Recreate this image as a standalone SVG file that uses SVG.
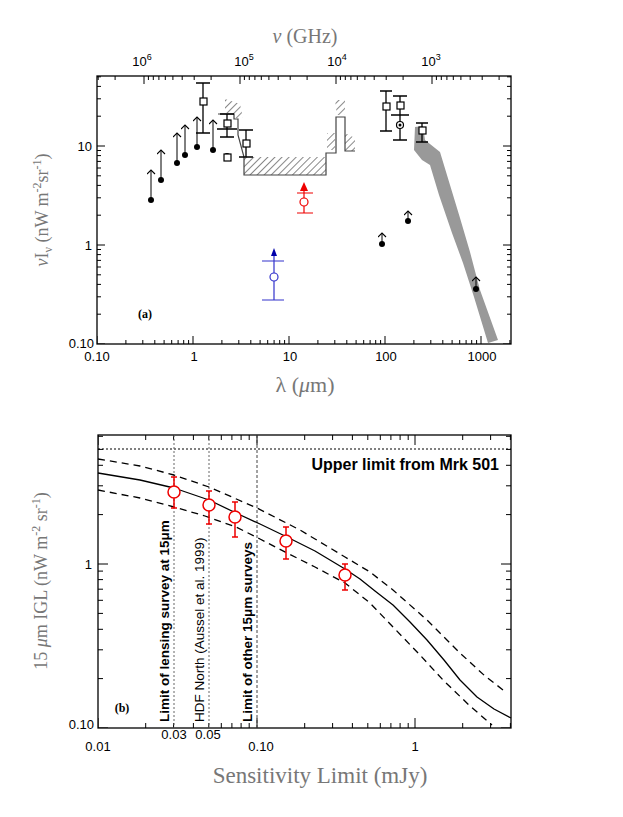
<svg xmlns="http://www.w3.org/2000/svg" xmlns:xlink="http://www.w3.org/1999/xlink" width="623" height="817" viewBox="0 0 623 817">
<style>
.ax{fill:none;stroke:#000;stroke-width:1.3}
.tk{fill:none;stroke:#000;stroke-width:1}
.lb{font-family:"Liberation Sans",Arial,sans-serif;font-size:13px;fill:#000}
.ttl{font-family:"Liberation Serif","DejaVu Serif",serif;fill:#777}
.eb{fill:none;stroke:#000;stroke-width:1.3}
.dot{fill:#000}
.sq{fill:#fff;stroke:#000;stroke-width:1.2}
.hat{fill:url(#hatch);stroke:none}
.vert{font-family:"Liberation Sans",Arial,sans-serif;font-size:13.5px;fill:#000}
</style>
<defs>
<pattern id="hatch" patternUnits="userSpaceOnUse" width="5" height="5" patternTransform="rotate(45)">
<line x1="0" y1="0" x2="0" y2="5" stroke="#111" stroke-width="1"/>
</pattern>
<marker id="ar" markerWidth="8" markerHeight="10" refX="5" refY="4" orient="auto" markerUnits="userSpaceOnUse">
<path d="M1,0 L5,4 L1,8" fill="none" stroke="#000" stroke-width="1.1"/>
</marker>
<clipPath id="c1"><rect x="97" y="76" width="414" height="268"/></clipPath>
<clipPath id="c2"><rect x="98" y="435" width="413" height="293"/></clipPath>
<path id="dxa" d="M0,0v-8M28.9,0v-4M45.8,0v-4M57.8,0v-4M67.1,0v-4M74.7,0v-4M81.1,0v-4M86.7,0v-4M91.6,0v-4"/>
<path id="dya" d="M0,0h8M0,-29.8h4M0,-47.2h4M0,-59.6h4M0,-69.2h4M0,-77h4M0,-83.6h4M0,-89.4h4M0,-94.5h4"/>
<path id="dxb" d="M0,0v-10M47.7,0v-5M75.6,0v-5M95.4,0v-5M110.8,0v-5M123.3,0v-5M133.9,0v-5M143.1,0v-5M151.2,0v-5"/>
<path id="dyb" d="M0,0h10M0,-49.4h5M0,-78.2h5M0,-98.7h5M0,-114.6h5M0,-127.7h5M0,-138.8h5M0,-148.4h5M0,-156.9h5"/>
</defs>
<rect width="623" height="817" fill="#fff"/>

<!-- Panel (a) -->
<g id="panel-a-axes">
<rect class="ax" x="97" y="76" width="414" height="268"/>
<g class="tk" clip-path="url(#c1)">
<use xlink:href="#dxa" transform="translate(97,344)"/>
<use xlink:href="#dxa" transform="translate(193,344)"/>
<use xlink:href="#dxa" transform="translate(289,344)"/>
<use xlink:href="#dxa" transform="translate(385,344)"/>
<use xlink:href="#dxa" transform="translate(481,344)"/>
<use xlink:href="#dxa" transform="translate(528,76) scale(-1,-1)"/>
<use xlink:href="#dxa" transform="translate(432,76) scale(-1,-1)"/>
<use xlink:href="#dxa" transform="translate(336,76) scale(-1,-1)"/>
<use xlink:href="#dxa" transform="translate(240,76) scale(-1,-1)"/>
<use xlink:href="#dxa" transform="translate(144,76) scale(-1,-1)"/>
<use xlink:href="#dya" transform="translate(97,344)"/>
<use xlink:href="#dya" transform="translate(97,245)"/>
<use xlink:href="#dya" transform="translate(97,146)"/>
<use xlink:href="#dya" transform="translate(511,344) scale(-1,1)"/>
<use xlink:href="#dya" transform="translate(511,245) scale(-1,1)"/>
<use xlink:href="#dya" transform="translate(511,146) scale(-1,1)"/>
</g>
<g class="lb" text-anchor="middle">
<text x="97" y="361">0.10</text><text x="194" y="361">1</text><text x="290" y="361">10</text><text x="386" y="361">100</text><text x="482" y="361">1000</text>
<text x="142" y="66">10<tspan font-size="9" dy="-6">6</tspan></text>
<text x="244" y="66">10<tspan font-size="9" dy="-6">5</tspan></text>
<text x="337" y="66">10<tspan font-size="9" dy="-6">4</tspan></text>
<text x="431" y="66">10<tspan font-size="9" dy="-6">3</tspan></text>
</g>
<g class="lb" text-anchor="end">
<text x="92" y="151">10</text><text x="92" y="250">1</text><text x="94" y="348">0.10</text>
</g>
<text class="ttl" x="305" y="43" font-size="20" text-anchor="middle"><tspan font-style="italic">ν</tspan> (GHz)</text>
<text class="ttl" x="305" y="392" font-size="22" text-anchor="middle">λ (<tspan font-style="italic">μ</tspan>m)</text>
<text class="ttl" font-size="18" text-anchor="middle" transform="translate(48,210) rotate(-90)"><tspan font-style="italic">ν</tspan>I<tspan font-size="12" dy="4">ν</tspan><tspan dy="-4">  (nW m</tspan><tspan font-size="12" dy="-7">-2</tspan><tspan dy="7">sr</tspan><tspan font-size="12" dy="-7">-1</tspan><tspan dy="7">)</tspan></text>
<text x="145" y="318" font-family="Liberation Serif,serif" font-weight="bold" font-size="12" text-anchor="middle">(a)</text>
</g>

<g id="hatched-limits">
<polygon class="hat" points="244,157 326,157 326,175 244,175"/>
<polygon class="hat" points="225,99 240,104 243,118 233,118 233,113 225,113"/>
<polygon class="hat" points="335,100 345,100 345,115 337,115"/>
<polygon class="hat" points="327,133 335,133 335,150 327,150"/>
<polygon class="hat" points="345,133 355,138 355,151 345,151"/>
<polyline fill="none" stroke="#444" stroke-width="1.2" points="218,114 234,114 234,119 238,119 238,135 244,157 244,175 326,175 326,153 333,153 336,153 336,117 345,117 345,151 355,151"/>
</g>

<g id="band-submm">
<polygon fill="#999" points="415,127 423,126 425,140 440,152 450,185 460,218 470,252 480,290 498,340 488,343 474,297 463,263 452,233 439,195 430,165 422,160 414,150"/>
</g>

<g id="lower-limits">
<g class="tk" stroke-width="1.2" marker-end="url(#ar)">
<line x1="151" y1="200" x2="151" y2="170"/>
<line x1="161" y1="180" x2="161" y2="150"/>
<line x1="177" y1="163" x2="177" y2="133"/>
<line x1="185" y1="155" x2="185" y2="125"/>
<line x1="197" y1="147" x2="197" y2="117"/>
<line x1="213" y1="150" x2="213" y2="120"/>
<line x1="382" y1="244" x2="382" y2="233"/>
<line x1="408" y1="221" x2="408" y2="211"/>
<line x1="476" y1="289" x2="476" y2="277"/>
</g>
<circle class="dot" cx="151" cy="200" r="3"/><circle class="dot" cx="161" cy="180" r="3"/>
<circle class="dot" cx="177" cy="163" r="3"/><circle class="dot" cx="185" cy="155" r="3"/>
<circle class="dot" cx="197" cy="147" r="3"/><circle class="dot" cx="213" cy="150" r="3"/>
<circle class="dot" cx="227" cy="156" r="3"/>
<circle class="dot" cx="382" cy="244" r="3"/><circle class="dot" cx="408" cy="221" r="3"/><circle class="dot" cx="476" cy="289" r="3"/>
</g>

<g id="squares">
<path class="eb" d="M203,83V133M196,83h14M196,133h14 M227,114V137M220,114h14M220,137h14 M246,130V157M239,130h14M239,157h14 M386,91V131M380,91h12M380,131h12 M400,96V140M393,96h14M393,140h14M391,115h18 M422,123V142M416,123h12M416,142h12 M217,129h20"/>
<rect class="sq" x="200" y="98" width="7" height="7"/>
<rect class="sq" x="224" y="120" width="7" height="7"/>
<rect class="sq" x="224" y="154" width="7" height="7"/>
<rect class="sq" x="243" y="140" width="7" height="7"/>
<rect class="sq" x="383" y="103" width="7" height="7"/>
<rect class="sq" x="397" y="102" width="7" height="7"/>
<rect class="sq" x="419" y="127" width="7" height="7"/>
<circle cx="400" cy="125" r="3.5" fill="#fff" stroke="#000" stroke-width="1.2"/><circle cx="400" cy="125" r="1.5" fill="#000"/>
</g>

<g id="red-point-a">
<path fill="none" stroke="#e00" stroke-width="1.2" d="M304,190V213M297,193h16M297,213h16"/>
<polygon fill="#e00" points="300,191 304,182 308,191"/>
<circle cx="304" cy="202" r="4" fill="#fff" stroke="#e00" stroke-width="1.2"/>
</g>
<g id="blue-point-a">
<path fill="none" stroke="#33c" stroke-width="1.2" d="M274,255V300M262,261h22M262,300h22"/>
<polygon fill="#00a" points="271,256 274,248 277,256"/>
<circle cx="274" cy="277" r="4" fill="#fff" stroke="#33c" stroke-width="1.2"/>
</g>

<!-- Panel (b) -->
<g id="panel-b-axes">
<rect class="ax" x="98" y="435" width="413" height="293"/>
<g class="tk" clip-path="url(#c2)">
<use xlink:href="#dxb" transform="translate(98,728)"/>
<use xlink:href="#dxb" transform="translate(257,728)"/>
<use xlink:href="#dxb" transform="translate(415,728)"/>
<use xlink:href="#dxb" transform="translate(98,435) scale(1,-1)"/>
<use xlink:href="#dxb" transform="translate(257,435) scale(1,-1)"/>
<use xlink:href="#dxb" transform="translate(415,435) scale(1,-1)"/>
<use xlink:href="#dyb" transform="translate(98,728)"/>
<use xlink:href="#dyb" transform="translate(98,564)"/>
<use xlink:href="#dyb" transform="translate(511,728) scale(-1,1)"/>
<use xlink:href="#dyb" transform="translate(511,564) scale(-1,1)"/>
</g>
<g class="lb" text-anchor="middle" font-size="14">
<text x="98" y="751">0.01</text><text x="174" y="739">0.03</text><text x="208" y="739">0.05</text><text x="261" y="751">0.10</text><text x="415" y="751">1</text>
</g>
<g class="lb" text-anchor="end" font-size="14">
<text x="92" y="569">1</text><text x="94" y="729">0.10</text>
</g>
<text class="ttl" x="320" y="783" font-size="23" text-anchor="middle" font-family="'Liberation Sans Narrow','DejaVu Sans Condensed',sans-serif">Sensitivity Limit (mJy)</text>
<text class="ttl" font-size="18" text-anchor="middle" transform="translate(47,581) rotate(-90)">15 <tspan font-style="italic">μ</tspan>m IGL (nW m<tspan font-size="12" dy="-7">-2</tspan><tspan dy="7"> sr</tspan><tspan font-size="12" dy="-7">-1</tspan><tspan dy="7">)</tspan></text>
<text x="122" y="712" font-family="Liberation Serif,serif" font-weight="bold" font-size="12" text-anchor="middle">(b)</text>
<text x="499" y="470" font-family="Liberation Sans,Arial,sans-serif" font-weight="bold" font-size="16" text-anchor="end">Upper limit from Mrk 501</text>
</g>

<g id="limit-lines">
<line x1="98" y1="449" x2="511" y2="449" stroke="#000" stroke-width="1" stroke-dasharray="2,2"/>
<line x1="174" y1="435" x2="174" y2="728" stroke="#666" stroke-width="1" stroke-dasharray="2,2"/>
<line x1="209" y1="435" x2="209" y2="728" stroke="#666" stroke-width="1" stroke-dasharray="2,2"/>
<line x1="257" y1="435" x2="257" y2="728" stroke="#444" stroke-width="1" stroke-dasharray="3,2"/>
<text class="vert" font-weight="bold" transform="translate(169,722) rotate(-90)">Limit of lensing survey at 15μm</text>
<text class="vert" transform="translate(204,722) rotate(-90)">HDF North (Aussel et al. 1999)</text>
<text class="vert" font-weight="bold" transform="translate(252,722) rotate(-90)">Limit of other 15μm surveys</text>
</g>

<g id="curves" fill="none" stroke="#000" stroke-width="1.3" stroke-linejoin="round">
<polyline points="98,473 140,480 174,488 209,500 236,513 260,524 287,537 315,551 345,569 360,579 375,591 393,605 410,622 427,640 444,660 460,680 477,697 494,709 511,718"/>
<polyline stroke-dasharray="7,5" points="98,459 140,466 174,475 209,487 257,508 300,530 345,557 370,572 393,590 427,620 460,653 485,676 507,693"/>
<polyline stroke-dasharray="7,5" points="98,490 140,498 174,507 205,516 236,527 260,539 287,553 315,567 345,583 370,603 393,627 420,655 443,680 470,706 492,725"/>
</g>

<g id="red-points-b" fill="none" stroke="#e00" stroke-width="1.5">
<path d="M174,477V508M171,477h6M171,508h6 M209,491V524M206,491h6M206,524h6 M235,502V537M232,502h6M232,537h6 M286,527V559M283,527h6M283,559h6 M345,564V590M342,564h6M342,590h6"/>
<g fill="#fff">
<circle cx="174" cy="492" r="6"/><circle cx="209" cy="505" r="6"/><circle cx="235" cy="517" r="6"/><circle cx="286" cy="541" r="6"/><circle cx="345" cy="575" r="6"/>
</g>
</g>
</svg>
